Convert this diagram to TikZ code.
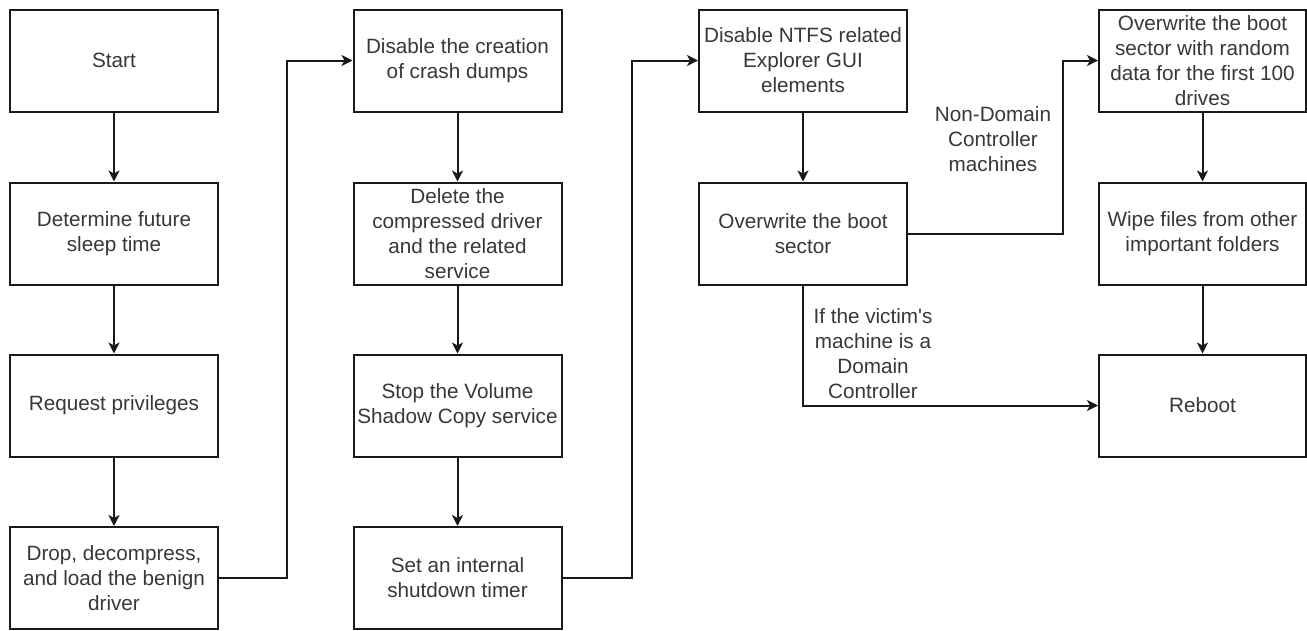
\documentclass[tikz,border=0pt]{standalone}
\usepackage{fontspec}
\setmainfont{Liberation Sans}
\usetikzlibrary{arrows.meta}
\begin{document}
\begin{tikzpicture}[x=1pt,y=-1pt,
  box/.style={draw=black!90, line width=2pt, fill=white, minimum width=208pt, minimum height=102pt,
    inner sep=0pt, align=center, text=black!78, font=\fontsize{20.7}{25}\selectfont},
  lbl/.style={align=center, text=black!78, font=\fontsize{20.7}{25}\selectfont, inner sep=0pt},
  conn/.style={draw=black!90, line width=2pt, -{Stealth[length=11pt,width=11pt,inset=3pt]}},
  line/.style={draw=black!90, line width=2pt}]
\useasboundingbox (0,0) rectangle (1307,630);
\fill[white] (0,0) rectangle (1307,630);
% column 1
\node[box] (start) at (114,60.5) {Start};
\node[box] (sleep) at (114,233.5) {Determine future\\sleep time};
\node[box] (priv) at (114,405.5) {Request privileges};
\node[box] (drop) at (114,578) {Drop, decompress,\\and load the benign\\driver};
% column 2
\node[box] (crash) at (457.5,60.5) {Disable the creation\\of crash dumps};
\node[box] (del) at (457.5,233.5) {Delete the\\compressed driver\\and the related\\service};
\node[box] (vss) at (457.5,405.5) {Stop the Volume\\Shadow Copy service};
\node[box] (timer) at (457.5,578) {Set an internal\\shutdown timer};
% column 3
\node[box] (ntfs) at (803,60.5) {Disable NTFS related\\Explorer GUI\\elements};
\node[box] (boot) at (803,233.5) {Overwrite the boot\\sector};
% column 4
\node[box, minimum width=207pt] (rand) at (1202.5,60.5) {Overwrite the boot\\sector with random\\data for the first 100\\drives};
\node[box, minimum width=207pt] (wipe) at (1202.5,233.5) {Wipe files from other\\important folders};
\node[box, minimum width=207pt] (reboot) at (1202.5,405.5) {Reboot};
% labels
\node[lbl] (l1) at (993,139) {Non-Domain\\Controller\\machines};
\node[lbl] (l2) at (873,354) {If the victim\textquotesingle s\\machine is a\\Domain\\Controller};
% connectors
\draw[conn] (start) -- (sleep);
\draw[conn] (sleep) -- (priv);
\draw[conn] (priv) -- (drop);
\draw[conn] (drop.east) -- ++(68,0) |- (crash.west);
\draw[conn] (crash) -- (del);
\draw[conn] (del) -- (vss);
\draw[conn] (vss) -- (timer);
\draw[conn] (timer.east) -- ++(69,0) |- (ntfs.west);
\draw[conn] (ntfs) -- (boot);
\draw[conn] (boot.east) -- ++(155,0) |- (rand.west);
\draw[conn] (rand) -- (wipe);
\draw[conn] (wipe) -- (reboot);
\draw[conn] (boot.south) |- (reboot.west);
\end{tikzpicture}
\end{document}
